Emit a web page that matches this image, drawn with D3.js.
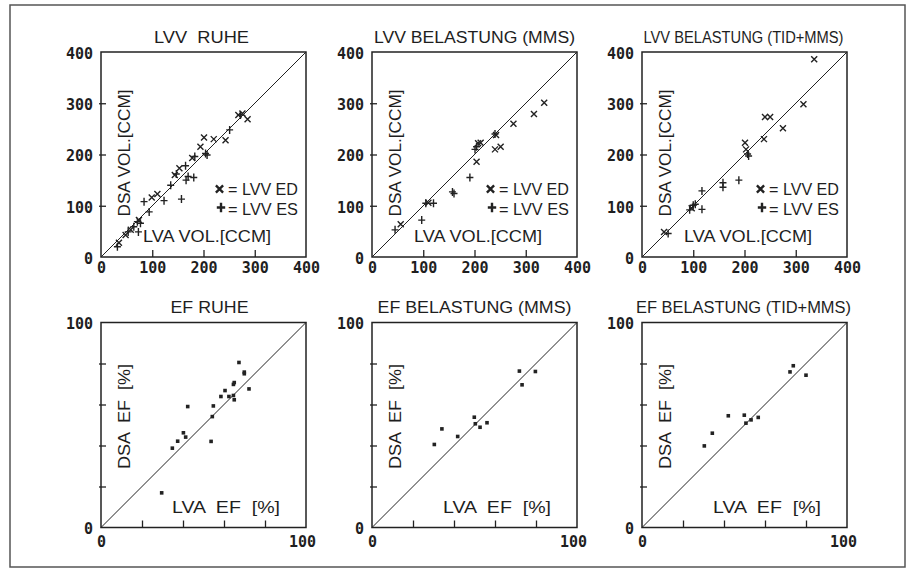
<!DOCTYPE html>
<html>
<head>
<meta charset="utf-8">
<script src="https://cdn.jsdelivr.net/npm/d3@7"></script>
<style>
  body { margin: 0; background: #fff; }
  text { fill: #1e1e1e; }
</style>
</head>
<body>
<svg id="chart" width="910" height="570"></svg>
<script>
// LVV in ccm, pairs are [LVA, DSA]
const ruheED = [[35,28],[48,43],[58,53],[74,72],[99,116],[110,123],[144,160],[153,173],[178,193],
  [194,215],[201,233],[220,230],[243,228],[268,277],[276,280],[286,269]];
const ruheES = [[32,20],[53,49],[64,59],[71,69],[77,66],[73,49],[84,108],[94,88],[123,110],[136,140],
  [147,162],[157,113],[165,178],[166,150],[170,157],[183,196],[181,155],[204,202],[207,199],[251,248],[272,277]];

const mmsED = [[56,64],[110,106],[204,186],[207,222],[212,223],[242,238],[240,210],[251,215],[276,260],[316,279],[336,301]];
const mmsES = [[45,53],[97,72],[105,105],[120,105],[157,127],[160,124],[191,155],[201,210],[204,215],[240,240]];

const tidED = [[43,49],[97,95],[201,223],[203,210],[238,230],[240,273],[250,273],[275,251],[315,298],[336,386]];
const tidES = [[51,46],[93,92],[100,101],[104,103],[117,93],[117,129],[158,145],[158,136],[189,150],[206,201],[208,197]];

// EF in %, pairs are [LVA, DSA]
const efRuhe = [[29.6,16.9],[34.8,38.7],[37.4,42.1],[40.2,46.2],[41.3,44.1],[42.3,59],[53.7,42],[54.3,54.1],
  [54.8,59.3],[58.5,63.9],[60.5,66.8],[62.4,63.9],[64.6,64.4],[65,62.3],[64.6,69.8],[65,70.7],
  [67.3,80.5],[69.9,75.8],[69.9,75],[72.2,67.6]];
const efMms = [[30.4,40.5],[34.1,48.1],[41.8,44.4],[49.9,53.8],[50.4,50.6],[52.7,48.9],[56.1,51.1],
  [71.9,76.3],[73.2,69.6],[79.7,76.1]];
const efTid = [[30.4,39.8],[34.3,46],[42.1,54.5],[49.9,54.8],[50.7,50.9],[53.2,52.5],[56.7,53.7],
  [72.2,75.9],[73.8,78.9],[80,74.3]];

const volTicks = [100, 200, 300];
const volLabels = [0, 100, 200, 300, 400];
const efTicks = [20, 40, 60, 80];
const efLabels = [0, 100];

const panels = [
  {title: "LVV  RUHE", kind: "vol", ed: ruheED, es: ruheES},
  {title: "LVV BELASTUNG (MMS)", kind: "vol", ed: mmsED, es: mmsES},
  {title: "LVV BELASTUNG (TID+MMS)", kind: "vol", ed: tidED, es: tidES},
  {title: "EF RUHE", kind: "ef", pts: efRuhe},
  {title: "EF BELASTUNG (MMS)", kind: "ef", pts: efMms},
  {title: "EF BELASTUNG (TID+MMS)", kind: "ef", pts: efTid}
];

// layout
const size = 205;
const cols = [101, 372, 642];
const rows = [52, 322.5];
const titleW = [95, 201, 200, 78, 194, 215];
const titleDx = [-2, 0, -1, 6, 0, -1];
const sans = "'Liberation Sans', Arial, sans-serif";
const mono = "'DejaVu Sans Mono', 'Liberation Mono', monospace";

const xPath = "M-3,-3L3,3M-3,3L3,-3";
const pPath = "M-3.5,0H3.5M0,-4V4";

const svg = d3.select("#chart");

svg.append("rect")
  .attr("x", 10).attr("y", 5)
  .attr("width", 895).attr("height", 562)
  .attr("fill", "none")
  .attr("stroke", "#555")
  .attr("stroke-width", 1.5);

panels.forEach((p, i) => {
  const g = svg.append("g")
    .attr("transform", `translate(${cols[i % 3]},${rows[Math.floor(i / 3)]})`);

  const max = p.kind === "vol" ? 400 : 100;
  const x = d3.scaleLinear().domain([0, max]).range([0, size]);
  const y = d3.scaleLinear().domain([0, max]).range([size, 0]);
  const ticks = p.kind === "vol" ? volTicks : efTicks;
  const labels = p.kind === "vol" ? volLabels : efLabels;

  // inward ticks
  g.append("g")
    .attr("transform", `translate(0,${size})`)
    .call(d3.axisBottom(x).tickValues(ticks).tickSize(-7).tickFormat(""))
    .call(a => a.select(".domain").remove())
    .selectAll("line").attr("stroke", "#222").attr("stroke-width", 1.3);

  g.append("g")
    .call(d3.axisLeft(y).tickValues(ticks).tickSize(-5).tickFormat(""))
    .call(a => a.select(".domain").remove())
    .selectAll("line").attr("x1", -2).attr("stroke", "#222").attr("stroke-width", 1.3);

  // tick labels
  const bx = g.append("g")
    .attr("transform", `translate(0,${size})`)
    .call(d3.axisBottom(x).tickValues(labels).tickSize(0).tickPadding(p.kind === "vol" ? 5 : 9))
    .call(a => a.select(".domain").remove());
  const ly = g.append("g")
    .call(d3.axisLeft(y).tickValues(labels).tickSize(0).tickPadding(8))
    .call(a => a.select(".domain").remove());
  [bx, ly].forEach(a => {
    a.attr("font-family", mono).attr("font-size", 15).attr("font-weight", "bold");
    a.selectAll("text").attr("fill", "#1e1e1e");
  });
  ly.selectAll("text").attr("dy", "0.42em");
  if (p.kind === "ef") bx.selectAll("text").filter(d => d === max).attr("dx", -4);

  // frame and identity line
  g.append("rect")
    .attr("width", size).attr("height", size)
    .attr("fill", "none").attr("stroke", "#222").attr("stroke-width", 1.5);
  g.append("line")
    .attr("x1", x(0)).attr("y1", y(0))
    .attr("x2", x(max)).attr("y2", y(max))
    .attr("stroke", "#222").attr("stroke-width", 1);

  // title
  g.append("text")
    .attr("x", size / 2 + titleDx[i]).attr("y", -9.5)
    .attr("text-anchor", "middle")
    .attr("font-family", sans).attr("font-size", 16)
    .attr("textLength", titleW[i]).attr("lengthAdjust", "spacingAndGlyphs")
    .style("white-space", "pre")
    .text(p.title);

  if (p.kind === "vol") {
    g.append("text")
      .attr("transform", "translate(29,101) rotate(-90)")
      .attr("text-anchor", "middle")
      .attr("font-family", sans).attr("font-size", 16)
      .attr("textLength", 127).attr("lengthAdjust", "spacingAndGlyphs")
      .text("DSA VOL.[CCM]");
    g.append("text")
      .attr("x", 106).attr("y", 190)
      .attr("text-anchor", "middle")
      .attr("font-family", sans).attr("font-size", 16)
      .attr("textLength", 128).attr("lengthAdjust", "spacingAndGlyphs")
      .text("LVA VOL.[CCM]");

    g.append("g").selectAll("path")
      .data(p.ed).enter().append("path")
      .attr("transform", d => `translate(${x(d[0])},${y(d[1])})`)
      .attr("d", xPath)
      .attr("stroke", "#222").attr("stroke-width", 1.4).attr("fill", "none");
    g.append("g").selectAll("path")
      .data(p.es).enter().append("path")
      .attr("transform", d => `translate(${x(d[0])},${y(d[1])})`)
      .attr("d", pPath)
      .attr("stroke", "#222").attr("stroke-width", 1.4).attr("fill", "none");

    // legend
    g.append("path").attr("transform", "translate(118.5,137) scale(1.2)").attr("d", xPath)
      .attr("stroke", "#222").attr("stroke-width", 2).attr("fill", "none");
    g.append("path").attr("transform", "translate(120,155.5) scale(1.2)").attr("d", pPath)
      .attr("stroke", "#222").attr("stroke-width", 2).attr("fill", "none");
    g.append("text").attr("x", 127).attr("y", 143)
      .attr("font-family", sans).attr("font-size", 16)
      .attr("textLength", 70).attr("lengthAdjust", "spacingAndGlyphs")
      .text("= LVV ED");
    g.append("text").attr("x", 127).attr("y", 163)
      .attr("font-family", sans).attr("font-size", 16)
      .attr("textLength", 70).attr("lengthAdjust", "spacingAndGlyphs")
      .text("= LVV ES");
  } else {
    g.append("text")
      .attr("transform", "translate(29,94) rotate(-90)")
      .attr("text-anchor", "middle")
      .attr("font-family", sans).attr("font-size", 16)
      .attr("textLength", 105).attr("lengthAdjust", "spacingAndGlyphs")
      .style("white-space", "pre")
      .text("DSA  EF  [%]");
    g.append("text")
      .attr("x", 125).attr("y", 190)
      .attr("text-anchor", "middle")
      .attr("font-family", sans).attr("font-size", 16)
      .attr("textLength", 108).attr("lengthAdjust", "spacingAndGlyphs")
      .style("white-space", "pre")
      .text("LVA  EF  [%]");

    g.append("g").selectAll("rect")
      .data(p.pts).enter().append("rect")
      .attr("x", d => x(d[0]) - 1.8)
      .attr("y", d => y(d[1]) - 1.8)
      .attr("width", 3.6).attr("height", 3.6)
      .attr("fill", "#222");
  }
});
</script>
</body>
</html>
